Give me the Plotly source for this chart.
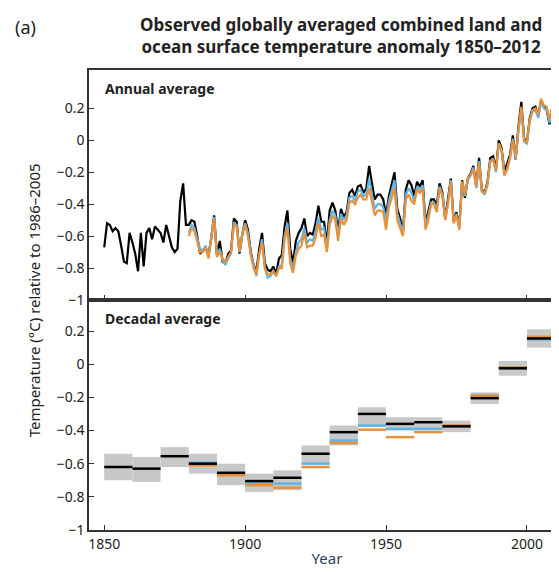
import numpy as np
import plotly.graph_objects as go
from plotly.subplots import make_subplots

# HadCRUT4-like annual anomalies, 1850-2012 (black)
years_h = list(range(1850, 2013))
had = [-0.67, -0.52, -0.53, -0.57, -0.55, -0.57, -0.66, -0.76, -0.77, -0.58,
       -0.64, -0.71, -0.82, -0.58, -0.79, -0.58, -0.55, -0.62, -0.54, -0.56,
       -0.58, -0.64, -0.53, -0.60, -0.67, -0.70, -0.68, -0.38, -0.27, -0.53,
       -0.53, -0.50, -0.51, -0.60, -0.71, -0.69, -0.67, -0.72, -0.61, -0.47,
       -0.72, -0.63, -0.76, -0.77, -0.71, -0.69, -0.49, -0.51, -0.71, -0.59,
       -0.50, -0.56, -0.70, -0.78, -0.82, -0.68, -0.58, -0.77, -0.81, -0.82,
       -0.79, -0.84, -0.74, -0.72, -0.54, -0.44, -0.68, -0.77, -0.63, -0.58,
       -0.55, -0.49, -0.60, -0.58, -0.59, -0.52, -0.41, -0.51, -0.51, -0.65,
       -0.44, -0.39, -0.44, -0.57, -0.43, -0.48, -0.45, -0.33, -0.31, -0.35,
       -0.29, -0.28, -0.33, -0.30, -0.16, -0.27, -0.37, -0.34, -0.34, -0.37,
       -0.47, -0.35, -0.27, -0.20, -0.43, -0.49, -0.57, -0.31, -0.25, -0.28,
       -0.35, -0.26, -0.29, -0.25, -0.52, -0.44, -0.37, -0.37, -0.41, -0.27,
       -0.33, -0.49, -0.37, -0.24, -0.51, -0.45, -0.54, -0.25, -0.36, -0.24,
       -0.21, -0.16, -0.29, -0.11, -0.31, -0.33, -0.26, -0.11, -0.10, -0.18,
       0.00, -0.05, -0.20, -0.15, -0.09, 0.03, -0.12, 0.09, 0.24, 0.01,
       -0.01, 0.14, 0.20, 0.21, 0.15, 0.25, 0.21, 0.19, 0.10, 0.21,
       0.26, 0.13, 0.17]

# 1880-2012 datasets (blue, orange)
years_n = list(range(1880, 2013))
giss = [-0.58, -0.53, -0.55, -0.61, -0.68, -0.69, -0.66, -0.73, -0.61, -0.48,
        -0.72, -0.68, -0.75, -0.78, -0.74, -0.71, -0.52, -0.53, -0.70, -0.58,
        -0.52, -0.58, -0.71, -0.79, -0.85, -0.72, -0.62, -0.80, -0.86, -0.85,
        -0.82, -0.85, -0.79, -0.78, -0.60, -0.52, -0.74, -0.80, -0.70, -0.64,
        -0.62, -0.55, -0.64, -0.62, -0.63, -0.57, -0.48, -0.56, -0.55, -0.68,
        -0.50, -0.44, -0.47, -0.60, -0.46, -0.50, -0.47, -0.36, -0.35, -0.38,
        -0.32, -0.31, -0.35, -0.34, -0.24, -0.34, -0.43, -0.40, -0.40, -0.42,
        -0.50, -0.38, -0.31, -0.25, -0.46, -0.52, -0.58, -0.34, -0.30, -0.33,
        -0.38, -0.29, -0.31, -0.28, -0.54, -0.47, -0.39, -0.39, -0.43, -0.29,
        -0.34, -0.49, -0.39, -0.25, -0.51, -0.46, -0.55, -0.26, -0.35, -0.25,
        -0.22, -0.17, -0.30, -0.13, -0.32, -0.34, -0.28, -0.13, -0.12, -0.20,
        -0.02, -0.07, -0.22, -0.18, -0.11, 0.01, -0.12, 0.06, 0.20, -0.01,
        -0.02, 0.12, 0.18, 0.19, 0.14, 0.24, 0.20, 0.19, 0.11, 0.19,
        0.23, 0.11, 0.14]
noaa = [-0.60, -0.55, -0.57, -0.63, -0.70, -0.70, -0.67, -0.74, -0.62, -0.49,
        -0.73, -0.70, -0.74, -0.76, -0.73, -0.70, -0.53, -0.54, -0.70, -0.59,
        -0.53, -0.60, -0.72, -0.80, -0.84, -0.71, -0.64, -0.80, -0.84, -0.84,
        -0.82, -0.85, -0.80, -0.80, -0.62, -0.55, -0.77, -0.83, -0.72, -0.68,
        -0.66, -0.58, -0.67, -0.66, -0.66, -0.61, -0.52, -0.60, -0.59, -0.70,
        -0.53, -0.47, -0.50, -0.63, -0.49, -0.53, -0.50, -0.39, -0.38, -0.40,
        -0.36, -0.34, -0.37, -0.37, -0.30, -0.39, -0.47, -0.44, -0.44, -0.45,
        -0.56, -0.42, -0.36, -0.30, -0.50, -0.55, -0.60, -0.37, -0.34, -0.38,
        -0.40, -0.31, -0.33, -0.30, -0.56, -0.50, -0.40, -0.40, -0.45, -0.30,
        -0.35, -0.50, -0.40, -0.26, -0.52, -0.47, -0.56, -0.26, -0.34, -0.24,
        -0.22, -0.18, -0.29, -0.14, -0.32, -0.33, -0.27, -0.13, -0.12, -0.19,
        -0.02, -0.06, -0.22, -0.18, -0.11, 0.00, -0.11, 0.07, 0.21, 0.00,
        -0.01, 0.13, 0.19, 0.20, 0.16, 0.26, 0.22, 0.21, 0.13, 0.21,
        0.26, 0.13, 0.17]

# Decadal averages
dec_start = [1850, 1860, 1870, 1880, 1890, 1900, 1910, 1920, 1930, 1940,
             1950, 1960, 1970, 1980, 1990, 2000]
dec_black = [-0.62, -0.63, -0.555, -0.60, -0.655, -0.705, -0.685, -0.54, -0.41, -0.30,
             -0.36, -0.35, -0.375, -0.205, -0.025, 0.155]
dec_blue = [None, None, None, -0.595, -0.665, -0.72, -0.72, -0.60, -0.46, -0.37,
            -0.39, -0.39, -0.37, -0.19, -0.02, 0.15]
dec_orange = [None, None, None, -0.61, -0.67, -0.73, -0.745, -0.62, -0.475, -0.395,
              -0.44, -0.41, -0.37, -0.19, -0.02, 0.165]
dec_lo = [-0.70, -0.71, -0.62, -0.66, -0.73, -0.77, -0.76, -0.60, -0.49, -0.38,
          -0.40, -0.40, -0.41, -0.24, -0.07, 0.10]
dec_hi = [-0.54, -0.56, -0.50, -0.54, -0.60, -0.66, -0.64, -0.49, -0.37, -0.26,
          -0.32, -0.32, -0.34, -0.17, 0.02, 0.21]

BLACK = "#000000"
BLUE = "#5fb4e6"
ORANGE = "#e8903a"
FONT = "Noto Sans"

fig = make_subplots(rows=2, cols=1, shared_xaxes=True, vertical_spacing=0)

fig.add_trace(go.Scatter(x=years_h, y=had, mode="lines",
                         line=dict(color=BLACK, width=2.2)), row=1, col=1)
fig.add_trace(go.Scatter(x=years_n, y=giss, mode="lines",
                         line=dict(color=BLUE, width=2.2)), row=1, col=1)
fig.add_trace(go.Scatter(x=years_n, y=noaa, mode="lines",
                         line=dict(color=ORANGE, width=2.2)), row=1, col=1)

# uncertainty boxes
fig.add_trace(go.Bar(x=[d + 5 for d in dec_start],
                     y=[h - l for h, l in zip(dec_hi, dec_lo)], base=dec_lo,
                     width=10, marker=dict(color="#c8c8c8", line=dict(width=0))),
              row=2, col=1)


def steps(vals):
    xs, ys = [], []
    for d, v in zip(dec_start, vals):
        if v is None:
            continue
        xs += [d, d + 10, None]
        ys += [v, v, None]
    return xs, ys


for vals, col in [(dec_blue, BLUE), (dec_orange, ORANGE), (dec_black, BLACK)]:
    xs, ys = steps(vals)
    fig.add_trace(go.Scatter(x=xs, y=ys, mode="lines",
                             line=dict(color=col, width=2.5)), row=2, col=1)

axis_style = dict(showline=True, linecolor="#333", linewidth=1.5, mirror=True,
                  ticks="inside", ticklen=5, tickcolor="#333", showgrid=False,
                  zeroline=False, automargin=False,
                  tickfont=dict(size=14, family=FONT, color="#222"))
fig.update_xaxes(range=[1844.6, 2013.5], tickvals=[1850, 1900, 1950, 2000], **axis_style)
fig.update_xaxes(title=dict(text="Year", font=dict(size=15, family=FONT), standoff=2), row=2, col=1)
yt = [0.2, 0, -0.2, -0.4, -0.6, -0.8, -1]
ytt = ["0.2", "0", "\u22120.2", "\u22120.4", "\u22120.6", "\u22120.8", "\u22121"]
fig.update_yaxes(tickvals=yt, ticktext=ytt, **axis_style)
fig.update_yaxes(range=[-1, 0.44], row=1, col=1)
fig.update_yaxes(range=[-1, 0.387], row=2, col=1)

fig.add_annotation(text="<b>Annual average</b>", x=0.03, y=0.985, xref="paper", yref="paper",
                   xanchor="left", yanchor="top", showarrow=False,
                   font=dict(size=14, family=FONT, color="#222"))
fig.add_annotation(text="<b>Decadal average</b>", x=0.03, y=0.485, xref="paper", yref="paper",
                   xanchor="left", yanchor="top", showarrow=False,
                   font=dict(size=14, family=FONT, color="#222"))
fig.add_annotation(text="Temperature (\u00b0C) relative to 1986\u20132005", x=-0.14, y=0.5,
                   xref="paper", yref="paper", textangle=-90, showarrow=False,
                   font=dict(size=15, family=FONT, color="#222"))
fig.add_annotation(text="<b>Observed globally averaged combined land and<br>ocean surface temperature anomaly 1850\u20132012</b>",
                   x=0.53, y=1.075, xref="paper", yref="paper", xanchor="center", yanchor="middle",
                   showarrow=False, font=dict(size=17, family=FONT, color="#222"))
fig.add_annotation(text="(a)", x=-0.16, y=1.125, xref="paper", yref="paper", xanchor="left",
                   yanchor="top", showarrow=False, font=dict(size=18, family=FONT, color="#222"))

fig.update_layout(width=559, height=572, showlegend=False, barmode="overlay",
                  plot_bgcolor="white", paper_bgcolor="white",
                  margin=dict(l=81, r=2, t=62, b=50))
fig.write_html("out.html")
